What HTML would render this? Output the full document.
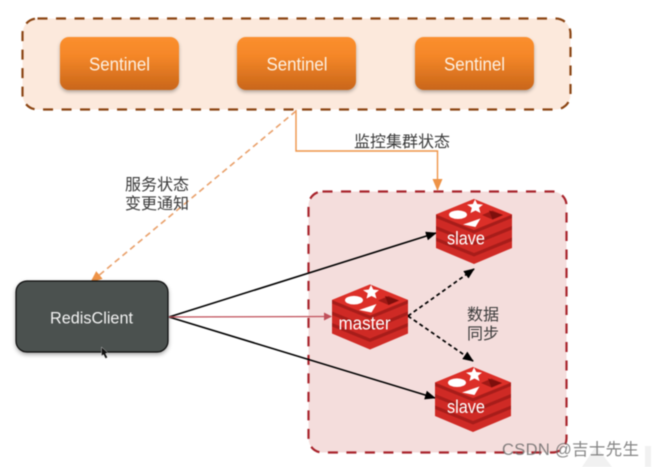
<!DOCTYPE html>
<html>
<head>
<meta charset="utf-8">
<style>
html,body{margin:0;padding:0;background:#fff;width:654px;height:467px;overflow:hidden}
svg{display:block;filter:blur(.4px)}
text{font-family:"Liberation Sans","Noto Sans CJK SC",sans-serif}
</style>
</head>
<body>
<svg width="654" height="467" viewBox="0 0 654 467" xmlns="http://www.w3.org/2000/svg">
<defs>
<linearGradient id="og" x1="0" y1="0" x2="0" y2="1">
<stop offset="0" stop-color="#fb8f2e"/><stop offset=".35" stop-color="#f58728"/><stop offset="1" stop-color="#c9661a"/>
</linearGradient>
<filter id="sh" x="-10%" y="-10%" width="120%" height="130%"><feDropShadow dx="0" dy="2" stdDeviation="1.800" flood-color="#000" flood-opacity=".3"/></filter>
<filter id="sh2" x="-10%" y="-10%" width="120%" height="125%"><feDropShadow dx="0" dy="2" stdDeviation="2" flood-color="#000" flood-opacity=".35"/></filter>
<marker id="mk" markerWidth="11" markerHeight="9" refX="10" refY="4.500" orient="auto" markerUnits="userSpaceOnUse"><path d="M0 0L11 4.500L0 9Z" fill="#000"/></marker>
<marker id="mo" markerWidth="12" markerHeight="10" refX="11" refY="5" orient="auto" markerUnits="userSpaceOnUse"><path d="M0 0L12 5L0 10Z" fill="#ee9347"/></marker>
<marker id="mr" markerWidth="8" markerHeight="8" refX="7" refY="4" orient="auto" markerUnits="userSpaceOnUse"><path d="M0 0L8 4L0 8Z" fill="#c0505a"/></marker>
<g id="redis">
<path d="M0 15.500L38 0L76 15.500V49L38 65L0 49Z" fill="#cf2a25"/>
<path d="M0 15.500V19L38 34.500L76 19V15.500L38 31Z" fill="#a71d1a"/>
<path d="M0 27V30.500L38 46L76 30.500V27L38 42.500Z" fill="#a71d1a"/>
<path d="M0 38.500V42L38 57.500L76 42V38.500L38 54Z" fill="#a71d1a"/>
<path d="M0 15.500L38 0L76 15.500L38 31Z" fill="#dc2f28"/>
<ellipse cx="22" cy="15.700" rx="9" ry="4.300" fill="#fff"/>
<path d="M39 .5L41.300 5L47 5.600L43 8.800L44.500 14L39.500 11.500L34.500 14L35.800 8.800L31 5.600L36.800 5Z" fill="#fff"/>
<path d="M27 25.500L44.500 19.500L39.500 28Z" fill="#fff"/>
<path d="M46 16L56.500 11.500L67 16L56.500 20.500Z" fill="#a01a16"/>
<path d="M53 11.500L67 16L56.500 20.500Z" fill="#7d0f0c"/>
</g>
</defs>

<rect width="654" height="467" fill="#fff"/>

<!-- Sentinel group -->
<rect x="22.500" y="18.500" width="548" height="91" rx="15" fill="#fce9dc" stroke="#8b4513" stroke-width="2.200" stroke-dasharray="10 8.500"/>
<g filter="url(#sh)">
<rect x="60" y="37" width="119" height="53" rx="9" fill="url(#og)"/>
<rect x="237" y="37" width="119" height="53" rx="9" fill="url(#og)"/>
<rect x="415" y="37" width="119" height="53" rx="9" fill="url(#og)"/>
</g>
<g fill="#fdf0e2" font-size="18">
<text x="89" y="70.500" textLength="61" lengthAdjust="spacingAndGlyphs">Sentinel</text>
<text x="266.500" y="70.500" textLength="61" lengthAdjust="spacingAndGlyphs">Sentinel</text>
<text x="444" y="70.500" textLength="61" lengthAdjust="spacingAndGlyphs">Sentinel</text>
</g>

<!-- Redis group -->
<rect x="308.500" y="191.500" width="258" height="261" rx="14" fill="#f4dddc" stroke="#a8242c" stroke-width="2.200" stroke-dasharray="10 8.500"/>

<!-- Orange connectors -->
<path d="M296 110V151H437.500V190" fill="none" stroke="#ee9347" stroke-width="1.400" marker-end="url(#mo)"/>
<path d="M296 111L91 282" fill="none" stroke="#e9a06a" stroke-width="1.600" stroke-dasharray="6 4" marker-end="url(#mo)"/>

<!-- RedisClient -->
<rect x="16" y="281" width="152" height="71" rx="11" fill="#4b5150" stroke="#111" stroke-width="1.200" filter="url(#sh2)"/>
<text x="50" y="323.500" font-size="17" fill="#f2f2f2" textLength="83" lengthAdjust="spacingAndGlyphs">RedisClient</text>

<!-- Client connectors -->
<path d="M169 317L436 233" stroke="#000" stroke-width="1.600" fill="none" marker-end="url(#mk)"/>
<path d="M169 317L435 398" stroke="#000" stroke-width="1.600" fill="none" marker-end="url(#mk)"/>
<path d="M169 317L331 316.500" stroke="#c0505a" stroke-width="1.300" fill="none" marker-end="url(#mr)"/>

<!-- Dashed sync -->
<path d="M408 316L474 269" stroke="#000" stroke-width="1.700" stroke-dasharray="4 3" fill="none" marker-end="url(#mk)"/>
<path d="M408 316L473 361" stroke="#000" stroke-width="1.700" stroke-dasharray="4 3" fill="none" marker-end="url(#mk)"/>

<!-- Redis icons -->
<use href="#redis" x="436" y="199"/>
<use href="#redis" x="332" y="284.500"/>
<use href="#redis" x="435" y="367"/>
<g fill="#fff" font-size="18.500">
<text x="447" y="244.500" textLength="38" lengthAdjust="spacingAndGlyphs">slave</text>
<text x="338.500" y="329.500" textLength="52" lengthAdjust="spacingAndGlyphs">master</text>
<text x="447" y="413" textLength="38" lengthAdjust="spacingAndGlyphs">slave</text>
</g>

<!-- Labels -->
<g fill="#3a3a3a" font-size="16">
<text x="354" y="147" textLength="96">监控集群状态</text>
<text x="125" y="190" textLength="64">服务状态</text>
<text x="125" y="209" textLength="64">变更通知</text>
<text x="467" y="320" textLength="32">数据</text>
<text x="467" y="339" textLength="32">同步</text>
</g>

<!-- Cursor -->
<path d="M101.500 347L101.500 356L103.500 354.500L105.500 358.500L107.500 357.500L105.500 353.500L108 353Z" fill="#111" stroke="#eee" stroke-width=".4"/>

<!-- Watermark ghost -->
<g fill="#f1f1f1">
<path d="M582 467L596 446L612 467Z"/>
<rect x="645" y="446" width="6" height="21"/>
</g>
<text x="502" y="455" font-size="16.500" fill="#666" fill-opacity=".8" textLength="137">CSDN @吉士先生</text>
</svg>
</body>
</html>
